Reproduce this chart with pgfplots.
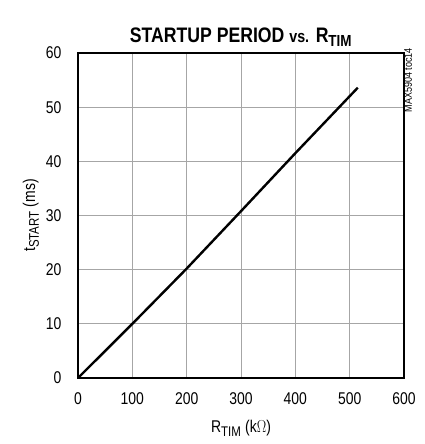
\documentclass[border=0pt]{standalone}
\usepackage{graphicx}
\usepackage{pgfplots}
\pgfplotsset{compat=1.18}
\usepackage{fontspec}
\setmainfont{Liberation Sans}
\newcommand{\nar}[1]{\scalebox{0.82}[1]{#1}}
\begin{document}
\begin{tikzpicture}[x=1pt,y=1pt]
\path[use as bounding box] (-78pt,-66pt) rectangle (347pt,378pt);
\begin{axis}[
  scale only axis,
  width=326pt, height=325pt,
  xmin=0, xmax=600, ymin=0, ymax=60,
  xtick={0,100,...,600}, ytick={0,10,...,60},
  grid=major,
  major grid style={gray!70, line width=0.8pt},
  axis line style={line width=2.4pt},
  tick style={draw=none},
  /pgf/number format/assume math mode=true,
  xticklabel={\nar{\pgfmathprintnumber{\tick}}},
  yticklabel={\nar{\pgfmathprintnumber{\tick}}},
  tick label style={font=\fontsize{17}{19}\selectfont},
  xticklabel style={yshift=-11pt},
  yticklabel style={xshift=-13pt},
  xlabel={\nar{R\textsubscript{\fontsize{14}{15}\selectfont TIM} (k$\Omega$)}},
  ylabel={\nar{t\textsubscript{\fontsize{14}{15}\selectfont START} (ms)}},
  label style={font=\fontsize{17}{19}\selectfont},
  xlabel style={yshift=-9pt},
  ylabel style={yshift=0pt},
  title={\scalebox{0.84}[1]{STARTUP PERIOD {\fontsize{17}{18}\selectfont vs.} R\textsubscript{\fontsize{16}{17}\selectfont TIM}}},
  title style={font=\fontsize{21}{23}\selectfont\bfseries, yshift=-3pt},
  clip=false,
]
\addplot[black, line width=2.4pt] coordinates {(0,0) (100,10) (200,20.2) (300,30.8) (400,41.5) (515,53.6)};
\node[rotate=90, anchor=north east, font=\fontsize{11}{12}\selectfont, inner sep=0pt] at (rel axis cs:1,1) [xshift=5pt] {\nar{MAX5904 toc14}};
\end{axis}
\end{tikzpicture}
\end{document}
